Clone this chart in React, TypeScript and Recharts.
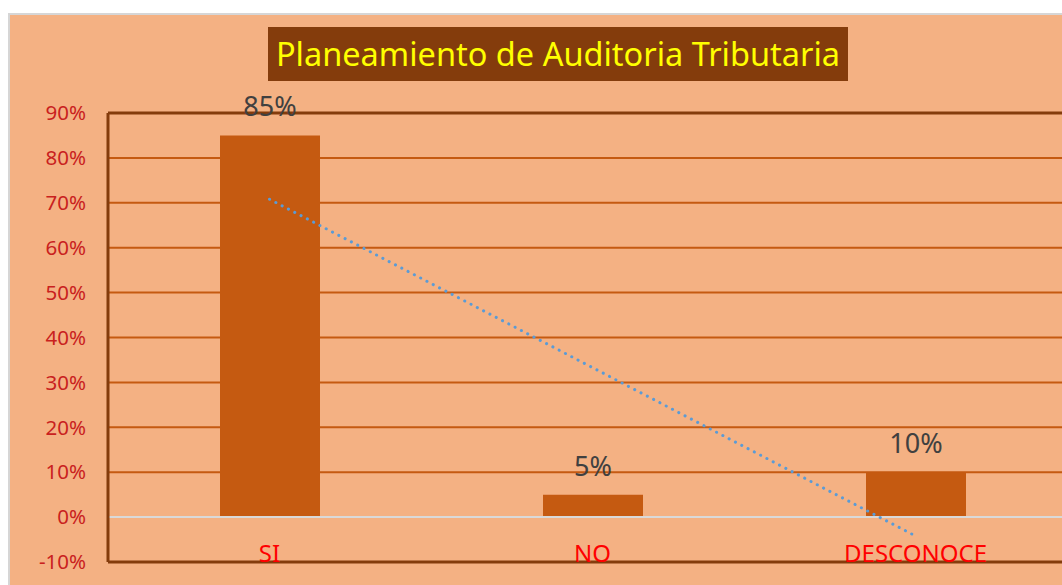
import React from 'react';
import { ComposedChart, Bar, Line, XAxis, YAxis, CartesianGrid, ReferenceLine, LabelList } from 'recharts';

const categories = ['SI', 'NO', 'DESCONOCE'];
const percentages = [85, 5, 10];
// linear trendline as drawn in the picture
const trendValues = [70.8, 33.3, -4.2];
const yTicks = [-10, 0, 10, 20, 30, 40, 50, 60, 70, 80, 90];

const data = categories.map((name, i) => ({
  name,
  value: percentages[i],
  trend: trendValues[i],
}));

const FONT = '"Noto Sans", "Open Sans", sans-serif';

const CategoryTick = (props: any) => {
  const { x, y, payload } = props;
  return (
    <text x={x} y={y} dy={-8} textAnchor="middle" fill="#FF0000" fontSize={24} fontFamily={FONT}>
      {payload.value}
    </text>
  );
};

const App: React.FC = () => {
  return (
    <div>
      <style>{`body{margin:0;overflow:hidden}`}</style>
      <div
        style={{
          position: 'relative',
          marginLeft: 8,
          marginTop: 13,
          width: 1054,
          height: 572,
          overflow: 'hidden',
          background: '#F4B183',
          borderTop: '2px solid #D6D6D6',
          borderLeft: '2px solid #D6D6D6',
          boxSizing: 'border-box',
        }}
      >
        <div
          style={{
            position: 'absolute',
            left: 258,
            top: 12,
            width: 580,
            height: 54,
            background: '#843C0C',
            color: '#FFFF00',
            fontFamily: FONT,
            fontSize: 32.5,
            lineHeight: '54px',
            textAlign: 'center',
            whiteSpace: 'nowrap',
          }}
        >
          Planeamiento de Auditoria Tributaria
        </div>
        <ComposedChart
          width={1080}
          height={570}
          data={data}
          margin={{ top: 98, right: 13, bottom: 0, left: 0 }}
          barCategoryGap="0%"
        >
          <CartesianGrid horizontal vertical={false} stroke="#C55A11" strokeWidth={2} />
          <XAxis
            dataKey="name"
            height={23}
            axisLine={false}
            tickLine={false}
            tick={<CategoryTick />}
            interval={0}
          />
          <YAxis
            type="number"
            domain={[-10, 90]}
            ticks={yTicks}
            interval={0}
            width={98}
            tickFormatter={(v: number) => `${v}%`}
            tickLine={false}
            axisLine={{ stroke: '#843C0C', strokeWidth: 3 }}
            tickMargin={16}
            tick={{ fill: '#C9211E', fontSize: 20.5, fontFamily: FONT }}
          />
          <ReferenceLine y={90} stroke="#843C0C" strokeWidth={3} />
          <ReferenceLine y={-10} stroke="#843C0C" strokeWidth={3} />
          <ReferenceLine y={0} stroke="#D9D9D9" strokeWidth={2} />
          <Bar dataKey="value" fill="#C55A11" barSize={100} isAnimationActive={false}>
            <LabelList
              dataKey="value"
              position="top"
              offset={19}
              formatter={(v: any) => `${v}%`}
              fill="#404040"
              fontSize={27}
              fontFamily={FONT}
            />
          </Bar>
          <Line
            type="linear"
            dataKey="trend"
            stroke="#5B9BD5"
            strokeWidth={3}
            strokeDasharray="0.1 7"
            strokeLinecap="round"
            dot={false}
            activeDot={false}
            isAnimationActive={false}
          />
        </ComposedChart>
      </div>
    </div>
  );
};

export default App;
